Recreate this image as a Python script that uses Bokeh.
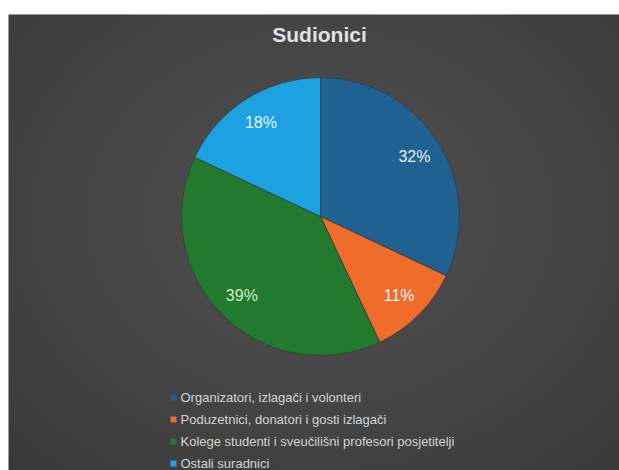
import math
from bokeh.plotting import figure
from bokeh.models import Range1d, ColumnDataSource
from bokeh.core.properties import value
from bokeh.embed import file_html
from bokeh.resources import INLINE

# ---- data ----
title = "Sudionici"
categories = [
    "Organizatori, izlagači i volonteri",
    "Poduzetnici, donatori i gosti izlagači",
    "Kolege studenti i sveučilišni profesori posjetitelji",
    "Ostali suradnici",
]
values = [32, 11, 39, 18]
colors = ["#1f6190", "#f06c2a", "#217a2d", "#1ca2e0"]
label_colors = ["#e8eef4", "#f4f4f4", "#cfeec6", "#e8f4fb"]

# ---- layout (figure pixel units; y up) ----
W, H = 619, 470
def fy(page_y):
    return H - page_y
def fx(page_x):
    return page_x

cx, cy, r = fx(320), fy(216), 139

p = figure(width=W, height=H, output_backend="svg", toolbar_location=None,
           x_range=Range1d(0, W), y_range=Range1d(0, H), min_border=0,
           outline_line_color=None)
p.axis.visible = False
p.grid.visible = False
p.background_fill_color = "white"
p.border_fill_color = "white"

# dark background
p.quad(left=[fx(8)], right=[W], bottom=[0], top=[fy(14)], fill_color="#383838", line_color=None)
# soft radial lightening
for k in range(18):
    rad = 440 - k * 18
    p.ellipse(x=[cx], y=[cy], width=[rad * 2.1], height=[rad * 1.7],
              fill_color="white", fill_alpha=0.0075, line_color=None)

# wedges
total = float(sum(values))
starts, ends, mids = [], [], []
acc = 0.0
for v in values:
    a0 = math.pi / 2 - 2 * math.pi * acc / total
    acc += v
    a1 = math.pi / 2 - 2 * math.pi * acc / total
    starts.append(a0)
    ends.append(a1)
    mids.append((a0 + a1) / 2)

src = ColumnDataSource(dict(start=starts, end=ends, color=colors))
p.wedge(x=cx, y=cy, radius=r, start_angle="start", end_angle="end",
        direction="clock", fill_color="color", line_color="#3a3a3a",
        line_width=0.8, source=src)

# percentage labels
lx = [cx + 0.8 * r * math.cos(m) for m in mids]
ly = [cy + 0.8 * r * math.sin(m) for m in mids]
p.text(x=lx, y=ly, text=[f"{v}%" for v in values], text_color=label_colors,
       text_font=value("Liberation Sans"), text_font_size="16px",
       text_align="center", text_baseline="middle")

# title
p.text(x=[fx(319)], y=[fy(34)], text=[title], text_color="#e2e2e2",
       text_font=value("Liberation Sans"), text_font_size="21px",
       text_font_style="bold", text_align="center", text_baseline="middle")

# legend
rows_y = [fy(397), fy(419), fy(441), fy(463)]
p.scatter(x=[fx(173)] * 4, y=rows_y, marker="square", size=6,
          fill_color=colors, line_color=None)
p.text(x=[fx(180)] * 4, y=rows_y, text=categories, text_color="#d4d4d4",
       text_font=value("Liberation Sans"), text_font_size="13px",
       text_align="left", text_baseline="middle")

open("out.html", "w").write(file_html(p, INLINE))
